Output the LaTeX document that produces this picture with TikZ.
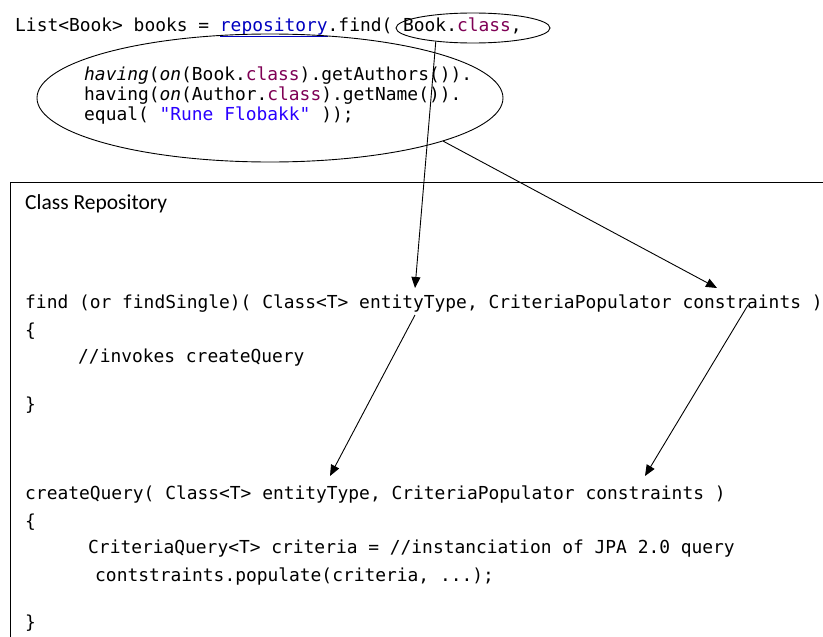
\documentclass[tikz,border=0pt]{standalone}
\usepackage{fontspec}
\setmonofont{DejaVu Sans Mono}[ItalicFont={DejaVu Sans Mono Oblique}]
\setsansfont{Carlito}
\usetikzlibrary{arrows.meta,shapes.geometric}
\definecolor{kw}{HTML}{7F0055}
\definecolor{fld}{HTML}{0000C0}
\definecolor{str}{HTML}{2A00FF}
\begin{document}
\begin{tikzpicture}[x=1pt,y=-1pt,
  code/.style={anchor=base west, inner sep=0pt, font=\ttfamily\fontsize{17.9}{20}\selectfont},
  title/.style={anchor=base west, inner sep=0pt, font=\sffamily\fontsize{21.5}{24}\selectfont},
  ring/.style={draw, ellipse, line width=0.9pt, inner sep=0pt},
  arr/.style={line width=0.9pt, -{Triangle[length=11pt,width=9pt]}}]
\useasboundingbox (0,0) rectangle (823,637);
\clip (0,0) rectangle (823,637);
\fill[white] (0,0) rectangle (823,637);
% class box
\draw[line width=0.9pt] (10,182) rectangle (860,680);
% top code
\node[code] (l1) at (15,31) {List<Book> books = \textcolor{fld}{\underline{repository}}.find( Book.\textcolor{kw}{class},};
\node[code] (l2) at (84,80) {\textit{having}(\textit{on}(Book.\textcolor{kw}{class}).getAuthors()).};
\node[code] (l3) at (84,100) {having(\textit{on}(Author.\textcolor{kw}{class}).getName()).};
\node[code] (l4) at (84,120) {equal( \textcolor{str}{"Rune Flobakk"} ));};
\node[ring, minimum width=154, minimum height=30] (small) at (473,28) {};
\node[ring, minimum width=466, minimum height=128] (big) at (270,98) {};
% box content
\node[title] (ct) at (25,209) {Class Repository};
\node[code] (f1) at (25,308) {find (or findSingle)( Class<T> entityType, CriteriaPopulator constraints )};
\node[code] (f2) at (25,336) {\{};
\node[code] (f3) at (78,362) {//invokes createQuery};
\node[code] (f4) at (25,410) {\}};
\node[code] (c1) at (25,499) {createQuery( Class<T> entityType, CriteriaPopulator constraints )};
\node[code] (c2) at (25,527) {\{};
\node[code] (c3) at (88,553) {CriteriaQuery<T> criteria = //instanciation of JPA 2.0 query};
\node[code] (c4) at (95,581) {contstraints.populate(criteria, ...);};
\node[code] (c5) at (25,628) {\}};
% arrow ends
\coordinate (t1) at (415,288);
\coordinate (t2) at (717,288);
\coordinate (s3) at (415,315);
\coordinate (t3) at (330,476);
\coordinate (s4) at (748,305);
\coordinate (t4) at (645,476);
\draw[arr] (small.200) -- (t1);
\draw[arr] (big.-14) -- (t2);
\draw[arr] (s3) -- (t3);
\draw[arr] (s4) -- (t4);
\end{tikzpicture}
\end{document}
